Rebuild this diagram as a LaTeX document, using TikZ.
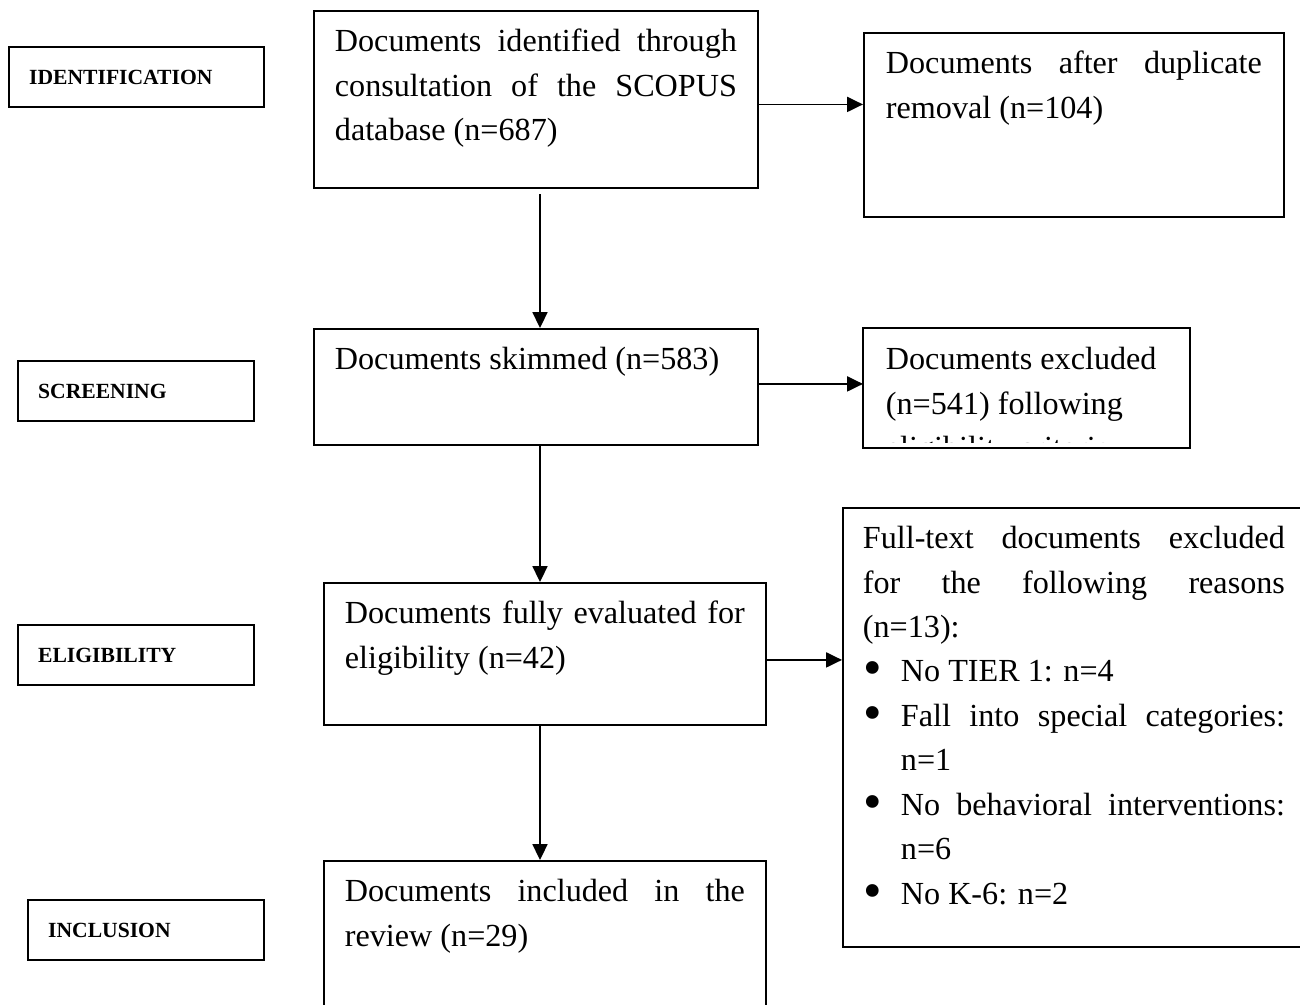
\documentclass[tikz,border=0pt]{standalone}
\usepackage{fontspec}
\setmainfont{Liberation Serif}
\usepackage{graphicx}
\usepackage{tikz}
\usetikzlibrary{arrows.meta, calc}
\tolerance=10000
\hyphenpenalty=10000
\exhyphenpenalty=10000
\tikzset{
    stagebox/.style = {draw, line width=1.3pt, anchor=north west,
        inner xsep=0.4cm, minimum height=1.2cm, text depth=0pt,
        align=left, font=\bfseries\fontsize{12.3}{14}\selectfont},
    docbox/.style = {draw, line width=1.05pt, anchor=north west,
        inner xsep=0.42cm, inner ysep=0.19cm,
        font=\fontsize{18.3}{25.3}\selectfont},
}
% text of a box, set from its top
\newcommand{\boxpar}[4][]{\parbox[c][#3][t]{#2}{#1\strut#4}}
\newcommand{\reason}[1]{\par\leftskip=0.76cm\noindent
    \llap{\makebox[0.76cm][l]{\hspace{0.02cm}\smash{\raisebox{-2.3pt}{\scalebox{1.65}{\textbullet}}}}}#1}

\begin{document}
\begin{tikzpicture}[>={Triangle[length=9pt,width=8.5pt]}, line width=1pt]
            \useasboundingbox (0,0) rectangle (26,-20.08);
            % stages
            \node[stagebox, text width=4.3cm] (identlbl) at (0.16,-0.92) {IDENTIFICATION};
            \node[stagebox, text width=3.92cm] (screenlbl) at (0.34,-7.2) {SCREENING};
            \node[stagebox, text width=3.92cm] (eliglbl) at (0.34,-12.48) {ELIGIBILITY};
            \node[stagebox, text width=3.92cm] (incllbl) at (0.54,-17.98) {INCLUSION};
            % documents
            \node[docbox] (ident) at (6.26,-0.2)
                {\boxpar{8.04cm}{3.16cm}{Documents identified through consultation of the SCOPUS database (n=687)}};
            \node[docbox, inner xsep=0.44cm] (dedup) at (17.26,-0.64)
                {\boxpar{7.52cm}{3.3cm}{Documents after duplicate removal (n=104)}};
            \node[docbox] (skim) at (6.26,-6.56)
                {\boxpar{8.04cm}{1.94cm}{Documents skimmed (n=583)}};
            \begin{scope}
                \clip (17.2,-6.5) rectangle (23.8,-8.84);
                \node[docbox, draw=none, inner xsep=0.44cm] (excl) at (17.26,-6.56)
                    {\boxpar[\raggedright]{5.62cm}{1.98cm}{Documents excluded\\ (n=541) following\\ eligibility criteria}};
            \end{scope}
            \draw[line width=1.05pt] (excl.north west) rectangle (excl.south east);
            \node[docbox] (elig) at (6.46,-11.64)
                {\boxpar{8cm}{2.46cm}{Documents fully evaluated for eligibility (n=42)}};
            \node[docbox, inner xsep=0.4cm] (fulltext) at (16.84,-10.14)
                {\boxpar{8.44cm}{8.4cm}{Full-text documents excluded\linebreak for the following reasons\linebreak (n=13):
                \reason{No TIER 1: n=4}
                \reason{Fall into special categories:\linebreak n=1}
                \reason{No behavioral interventions:\linebreak n=6}
                \reason{No K-6: n=2}}};
            \node[docbox] (incl) at (6.46,-17.2)
                {\boxpar{8cm}{3.02cm}{Documents included in the review (n=29)}};
            % flow
            \coordinate (spine) at (10.8,0);
            \draw[->] ($(ident.south -| spine)+(0,-0.11)$) -- (skim.north -| spine);
            \draw[->] (skim.south -| spine) -- (elig.north -| spine);
            \draw[->] (elig.south -| spine) -- (incl.north -| spine);
            \coordinate (todedup) at ($(ident.east)+(0,-0.1)$);
            \draw[->] (todedup) -- (todedup -| dedup.west);
            \coordinate (toexcl) at ($(skim.east)+(0,0.06)$);
            \draw[->] (toexcl) -- (toexcl -| excl.west);
            \coordinate (tofull) at ($(elig.east)+(0,-0.12)$);
            \draw[->] (tofull) -- (tofull -| fulltext.west);
\end{tikzpicture}
\end{document}
